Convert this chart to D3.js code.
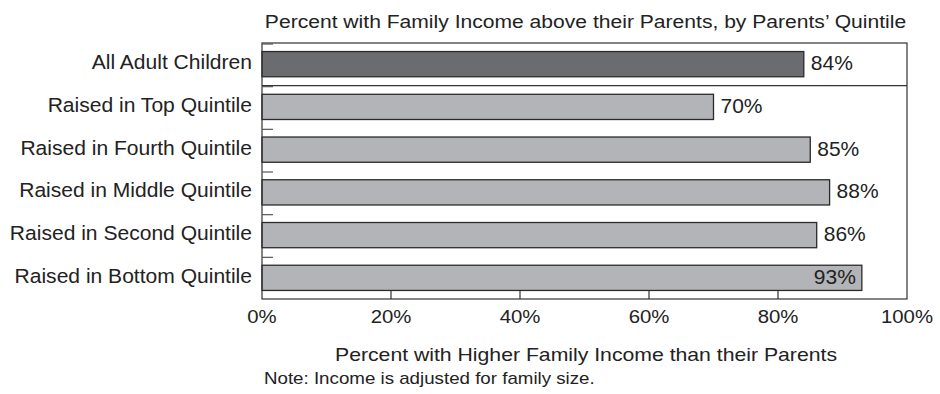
<!DOCTYPE html>
<html><head><meta charset="utf-8">
<script src="https://cdn.jsdelivr.net/npm/d3@7/dist/d3.min.js"></script>
<style>body{margin:0;background:#fff;}svg{display:block;font-family:"Liberation Sans",Arial,sans-serif;}</style>
</head><body>
<script>
const categories = ["All Adult Children","Raised in Top Quintile","Raised in Fourth Quintile","Raised in Middle Quintile","Raised in Second Quintile","Raised in Bottom Quintile"];
const values = [84,70,85,88,86,93];
const highlight = [true,false,false,false,false,false];
const xTicks = [0,20,40,60,80,100];
const title = "Percent with Family Income above their Parents, by Parents\u2019 Quintile";
const xTitle = "Percent with Higher Family Income than their Parents";
const note = "Note: Income is adjusted for family size.";

const W=940,H=394;
const m={l:262,r:907,t:43,b:299};
const svg=d3.select("body").append("svg").attr("width",W).attr("height",H);
const x=d3.scaleLinear().domain([0,100]).range([m.l,m.r]);
const y=d3.scaleBand().domain(categories).range([m.t,m.b]).paddingInner(0.41).paddingOuter(0.2);

// helper: horizontally stretched text (reference type is slightly wide)
function stext(sel, px, py, sx, size, anchor){
  return sel.append("text").attr("transform",`translate(${px},${py}) scale(${sx},1)`)
    .attr("text-anchor",anchor||"start").attr("font-size",size).attr("fill","#222");
}

// title
stext(svg,(m.l+m.r)/2+1,28,1.14,18.5,"middle").text(title);

// bars
svg.selectAll(".bar").data(categories).enter().append("rect")
 .attr("x",x(0)).attr("y",d=>y(d)).attr("width",(d,i)=>x(values[i])-x(0)).attr("height",y.bandwidth())
 .attr("fill",(d,i)=>highlight[i]?"#6b6c70":"#b3b4b8").attr("stroke","#2a2a2a").attr("stroke-width",1.3);

// frame
svg.append("rect").attr("x",m.l).attr("y",m.t).attr("width",m.r-m.l).attr("height",m.b-m.t).attr("fill","none").attr("stroke","#333").attr("stroke-width",1.2);

// separator after first band
const bounds=d3.range(categories.length).map(i=>m.t+(m.b-m.t)*i/categories.length);
svg.append("line").attr("x1",m.l).attr("x2",m.r).attr("y1",bounds[1]).attr("y2",bounds[1]).attr("stroke","#333").attr("stroke-width",1.2);
// left ticks
svg.selectAll(".lt").data(bounds).enter().append("line").attr("x1",m.l).attr("x2",m.l+11).attr("y1",d=>d+1).attr("y2",d=>d+1).attr("stroke","#555").attr("stroke-width",1.2);

// bottom ticks
svg.selectAll(".bt").data(xTicks.slice(1,-1)).enter().append("line").attr("x1",d=>x(d)).attr("x2",d=>x(d)).attr("y1",m.b).attr("y2",m.b-8).attr("stroke","#333").attr("stroke-width",1.2);

// value labels
categories.forEach((c,i)=>{
  const inside=values[i]>90;
  stext(svg, inside?x(values[i])-6:x(values[i])+7, y(c)+y.bandwidth()/2+6, 1.05, 20, inside?"end":"start").text(values[i]+"%");
});

// category labels
categories.forEach(c=>{
  stext(svg, m.l-10, y(c)+y.bandwidth()/2+5, 1.08, 19.5, "end").text(c);
});

// x tick labels
xTicks.forEach(t=>{
  stext(svg, x(t), 323, 1.1, 18.5, "middle").text(t+"%");
});

stext(svg,586,361,1.147,18.5,"middle").text(xTitle);
stext(svg,264,384,1.17,16,"start").text(note);
</script>
</body></html>
